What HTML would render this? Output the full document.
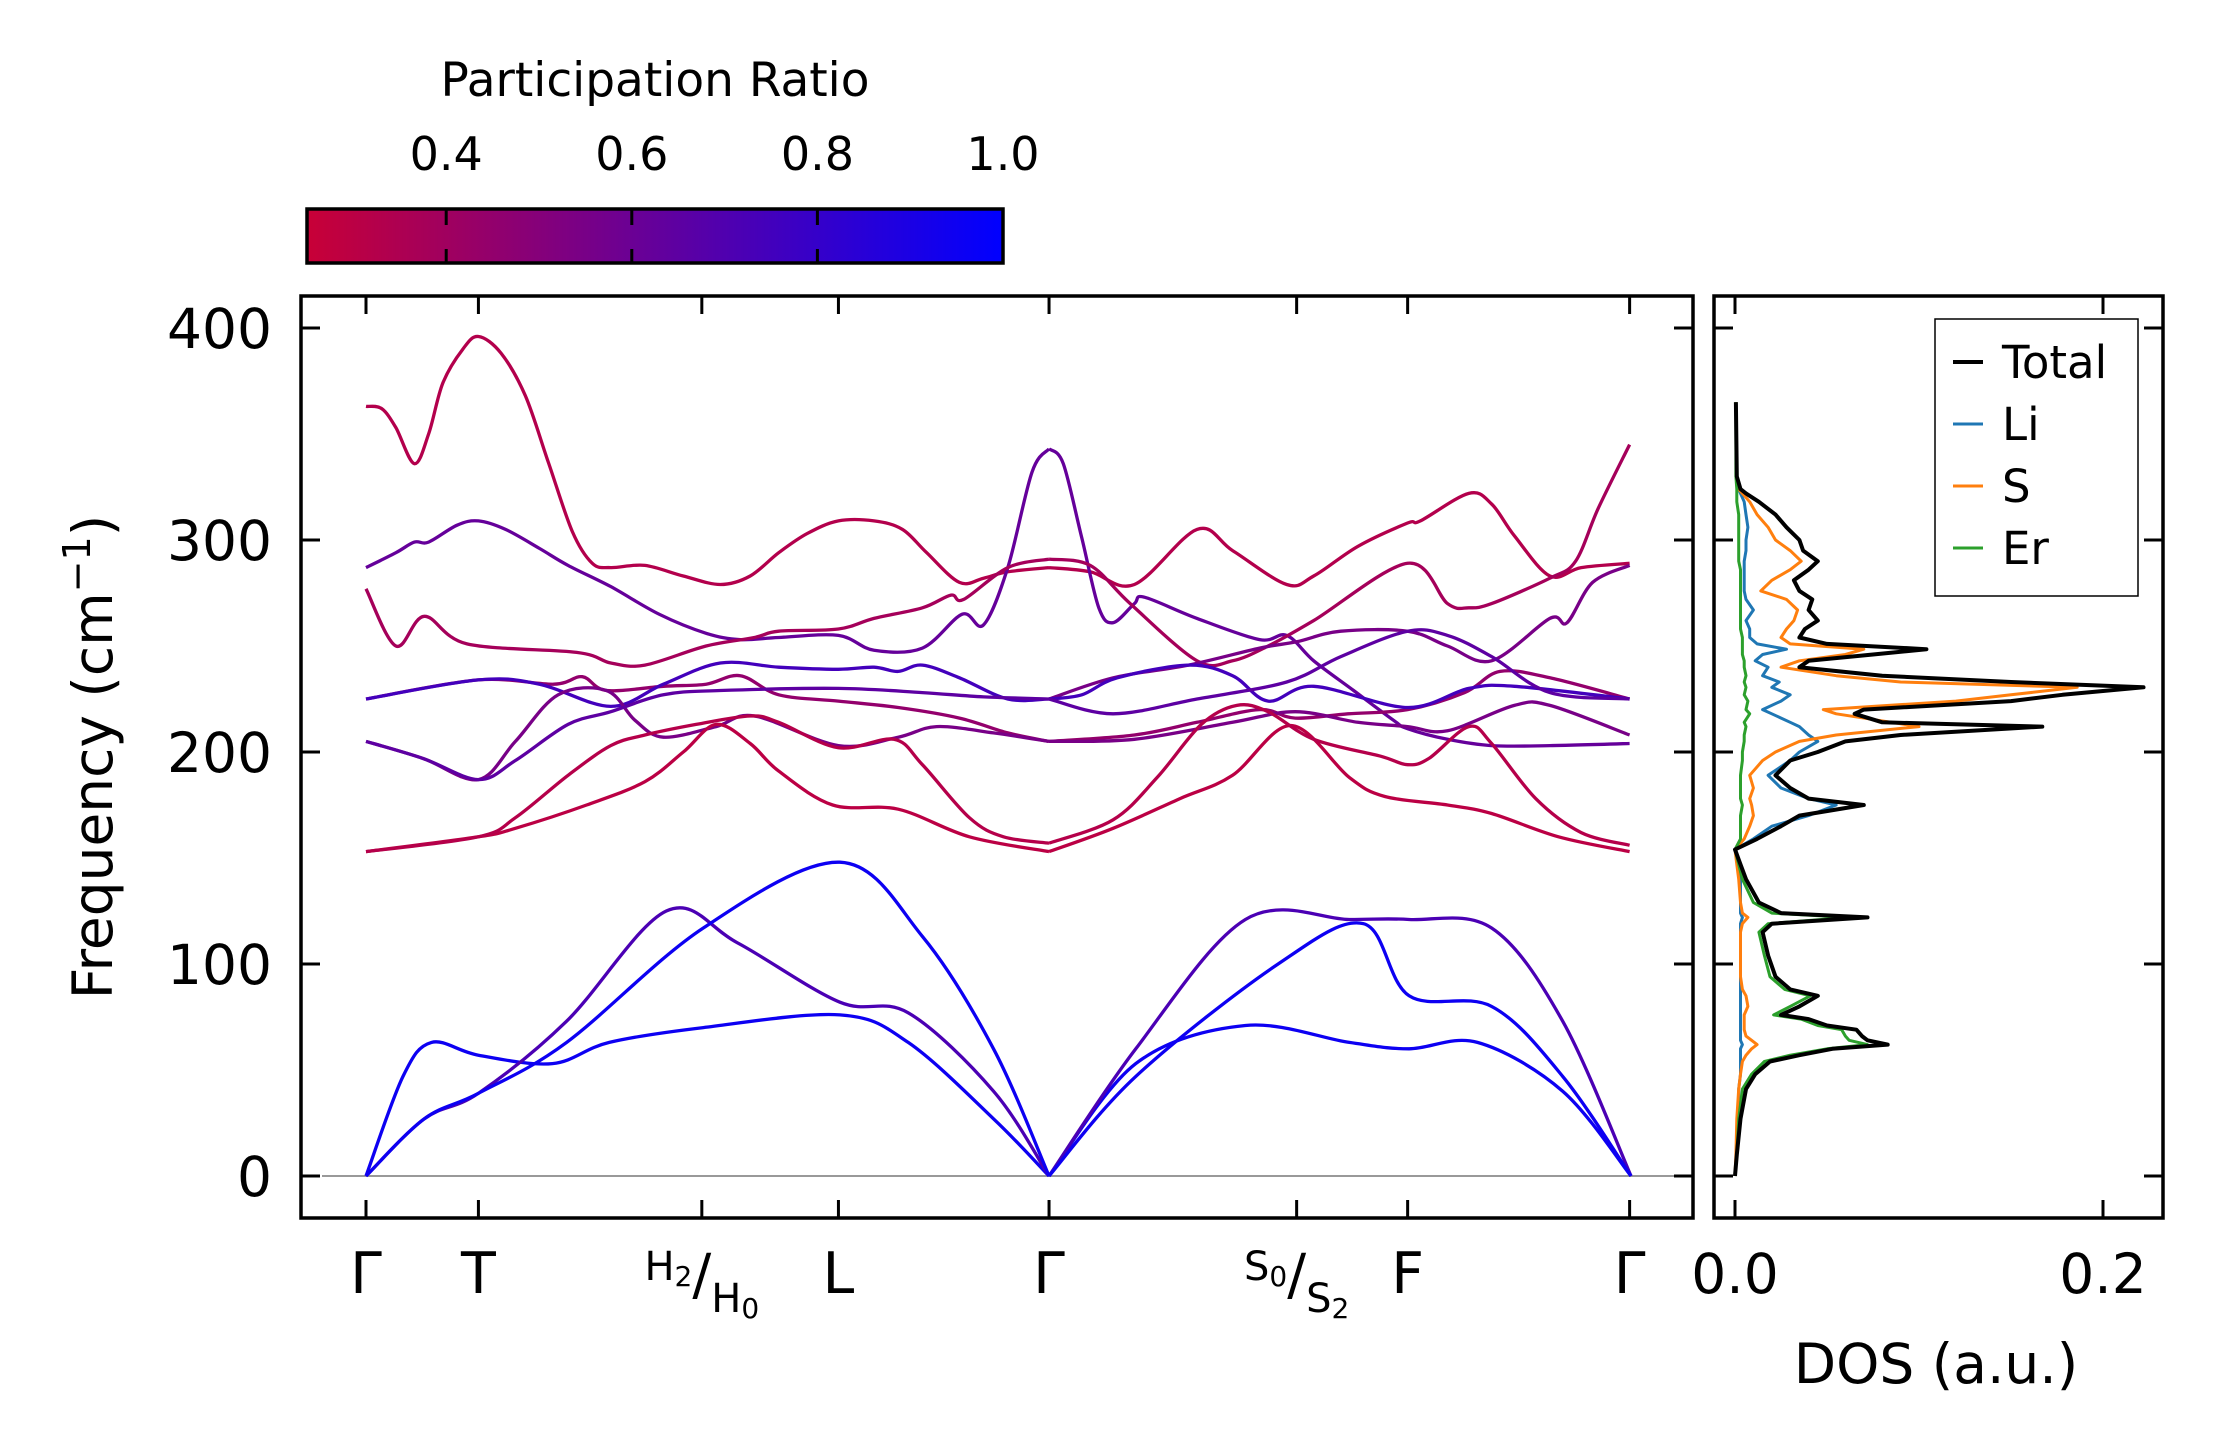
<!DOCTYPE html>
<html><head><meta charset="utf-8">
<style>
html,body{margin:0;padding:0;background:#fff;}
svg{display:block;font-family:"DejaVu Sans","Liberation Sans",sans-serif;}
</style></head>
<body>
<svg id="chart" width="2222" height="1455" viewBox="0 0 2222 1455" xmlns="http://www.w3.org/2000/svg">
<defs>
<linearGradient id="cmap" x1="0" x2="1" y1="0" y2="0">
<stop offset="0" stop-color="rgb(200,0,55)"/>
<stop offset="1" stop-color="rgb(0,0,255)"/>
</linearGradient>
<clipPath id="mainclip"><rect x="301" y="296" width="1392" height="922"/></clipPath>
<clipPath id="dosclip"><rect x="1714" y="296" width="449" height="922"/></clipPath>
</defs>
<rect x="0" y="0" width="2222" height="1455" fill="#fff"/>

<g id="colorbar">
<text x="655" y="96" font-size="47" text-anchor="middle">Participation Ratio</text>
<rect x="307" y="209" width="696" height="54" fill="url(#cmap)" stroke="#000" stroke-width="3.5"/>
<g id="cbticks"></g>
</g>

<g id="main-plot">
<line x1="322" y1="1176" x2="1693" y2="1176" stroke="#999" stroke-width="2"/>
<g id="bands" clip-path="url(#mainclip)"></g>
<rect x="301" y="296" width="1392" height="922" fill="none" stroke="#000" stroke-width="3.5"/>
<g id="mainticks"></g>
<text transform="translate(112,757) rotate(-90)" font-size="55" text-anchor="middle">Frequency (cm<tspan font-size="38" dy="-22">−1</tspan><tspan dy="22">)</tspan></text>
</g>

<g id="dos-plot">
<g id="dos" clip-path="url(#dosclip)"></g>
<rect x="1714" y="296" width="449" height="922" fill="none" stroke="#000" stroke-width="3.5"/>
<g id="dosticks"></g>
<text x="1936" y="1383" font-size="55" text-anchor="middle">DOS (a.u.)</text>
<g id="legend">
<rect x="1935" y="319" width="203" height="277" fill="#fff" stroke="#000" stroke-width="1.5"/>
</g>
</g>
</svg>
<script>
// ---- band structure data ----
const symLabels = ["Γ","T","H","L","Γ","S","F","Γ"];
const symK = [0, 0.79, 2.36, 3.32, 4.80, 6.54, 7.32, 8.88];
const bandK = [
 [0,.11,.21,.34,.44,.54,.68,.79,.95,1.12,1.28,1.45,1.59,1.72,1.96,2.23,2.49,2.70,2.90,3.10,3.32,3.57,3.77,3.94,4.17,4.34,4.51,4.80,5.09,5.40,5.84,6.09,6.47,6.66,6.97,7.32,7.41,7.75,7.91,8.07,8.32,8.54,8.88],
 [0,.21,.34,.44,.64,.79,.98,1.22,1.42,1.72,2.06,2.39,2.63,2.90,3.32,3.57,3.91,4.19,4.34,4.51,4.68,4.80,4.90,5.03,5.15,5.25,5.40,5.47,5.84,6.28,6.47,6.66,6.94,7.22,7.32,7.60,7.91,8.32,8.88],
 [0,.21,.41,.71,1.48,1.72,1.96,2.39,2.73,2.90,3.32,3.57,3.91,4.11,4.20,4.51,4.80,5.09,5.37,5.84,6.09,6.34,6.66,7.32,7.60,7.75,7.91,8.32,8.50,8.66,8.88],
 [4.80,5.25,5.78,6.28,6.54,6.85,7.32,7.60,7.91,8.32,8.44,8.62,8.88],
 [0,.79,1.32,1.52,1.69,2.09,2.39,2.63,2.90,3.32,3.74,4.17,4.51,4.80,5.40,5.84,6.28,6.53,6.90,7.32,7.72,7.97,8.32,8.88],
 [0,.79,1.22,1.72,2.09,2.49,2.90,3.32,3.57,3.74,3.91,4.17,4.51,4.80,5.03,5.28,5.78,6.09,6.34,6.66,7.32,7.75,8.07,8.88],
 [0,.4,.79,1.05,1.35,1.69,1.89,2.09,2.46,2.73,3.32,3.74,4.01,4.41,4.80,5.40,6.09,6.53,6.97,7.32,7.60,8.07,8.32,8.88],
 [0,.79,1.05,1.55,1.96,2.23,2.46,2.70,2.90,3.28,3.74,4.24,4.80,5.25,5.72,6.09,6.50,6.91,7.16,7.60,7.91,8.38,8.88],
 [0,.79,1.05,1.42,1.72,1.96,2.32,2.70,2.90,3.32,3.71,3.91,4.24,4.48,4.80,5.25,5.56,5.87,6.12,6.34,6.66,7.13,7.32,7.47,7.75,7.91,8.22,8.54,8.88],
 [0,.4,.79,1.05,1.42,1.72,2.09,2.49,3.32,3.91,4.34,4.80,5.25,5.84,6.47,6.85,7.32,7.60,7.91,8.32,8.88],
 [0,.26,.46,.79,1.31,1.71,2.37,3.33,3.81,4.41,4.80,5.41,6.18,6.91,7.33,7.81,8.41,8.89],
 [0,.41,.79,1.41,2.11,2.61,3.33,3.81,4.41,4.80,5.41,6.18,6.91,7.33,7.91,8.41,8.89],
 [0,.41,.79,1.41,2.37,3.33,3.91,4.41,4.80,5.41,6.41,7.01,7.33,7.91,8.41,8.89]
];
const bandF = [
 [363,362,353,336,350,374,390,396,388,368,337,304,289,287,288,283,279,283,294,303,309,309,305,294,280,282,285,287,285,279,305,295,279,283,297,308,309,322,317,302,283,287,289],
 [287,294,299,299,307,309,305,296,288,278,265,256,253,254,255,248,249,265,260,287,332,343,336,301,268,261,270,273,263,253,255,243,229,215,211,206,203,203,204],
 [277,250,264,251,247,242,241,250,254,257,258,263,268,274,272,287,291,288,270,243,243,250,262,289,270,268,270,282,290,315,345],
 [225,235,241,249,252,257,257,250,243,263,261,280,288],
 [225,234,232,235.5,229,231,232,236,227,224,221,216,209,205,208,214,220,216,218,220,228,238,235,225],
 [225,234,232,221.5,232,242,240,239,240,238,241,235,225,225,227,235,241,236,224,231,221,230,231,225],
 [205,197,187,205,227,229,215,207,212,217,203,207,212,209,205,206,214,219,214,212,210,222,222,208],
 [153,160,164,175,186,200,213,204,191,175,173,160,153,164,178,189,212.5,188,179,175,171,160,153],
 [153,160,169,189,203,208,213,217,214,202,206,194,169,160,157,168,188,213,222,219,206,198,194,197,212,204,178,162,156],
 [205,197,187,196,213,219,227,229,230,228,226,225,218,225,233,245,257,255,245,228,225],
 [0,47,63,57,53,63,70,76,63,27,0,53,71,63,60,63,40,0],
 [0,27,39,73,125,110,82,77,40,0,60,121,121,121,117,73,0],
 [0,27,39,63,117,148,113,60,0,47,100,119,85,80,47,0]
];
const bandPR = [0.33,0.62,0.38,0.55,0.45,0.75,0.55,0.30,0.32,0.65,0.95,0.72,0.95];
const freqTicks = [0,100,200,300,400];
const cbTicks = [0.4,0.6,0.8,1.0];

// ---- DOS data ----
const dosF = [0,10,27,41,48,54,57,60,62,64,66,69,71,74,76,80,85,88,94,104,115,119,122,124,129,140,147,154,159,165,170,175,178,183,189,196,200,205,208,212,214,218,220,224,227,230.5,233,236,240,243,246,248.5,251,254,258,262,267,272,276,281,286,290,295,300,306,312,318,322,324,330,365];
const dosTotal = [0,.001,.003,.006,.011,.019,.035,.053,.083,.072,.069,.066,.05,.04,.025,.035,.045,.03,.022,.018,.015,.02,.072,.025,.013,.006,.003,0,.012,.025,.035,.07,.04,.03,.022,.03,.045,.06,.09,.167,.08,.065,.07,.15,.178,.222,.15,.08,.035,.04,.075,.104,.05,.035,.038,.045,.04,.042,.035,.032,.04,.045,.037,.035,.028,.022,.013,.006,.003,.001,.0005];
const dosLi = [0,.001,.002,.002,.003,.003,.003,.003,.004,.003,.003,.003,.003,.003,.003,.003,.003,.003,.003,.003,.003,.003,.004,.003,.003,.003,.002,0,.01,.02,.04,.055,.04,.025,.018,.03,.035,.045,.04,.035,.03,.02,.015,.025,.03,.02,.024,.015,.018,.011,.015,.028,.012,.008,.008,.006,.01,.006,.005,.005,.005,.005,.006,.006,.007,.006,.005,.003,.002,.001,.0005];
const dosS = [0,.0005,.001,.002,.003,.004,.006,.009,.012,.009,.006,.005,.005,.005,.005,.007,.006,.004,.003,.003,.003,.004,.007,.004,.003,.002,.001,0,.005,.008,.01,.009,.008,.01,.008,.015,.022,.035,.055,.1,.085,.055,.048,.12,.15,.186,.09,.055,.025,.035,.06,.07,.03,.025,.028,.032,.034,.028,.014,.02,.03,.036,.03,.022,.018,.012,.008,.004,.002,.001,.0005];
const dosEr = [0,.001,.002,.004,.009,.016,.03,.05,.072,.062,.06,.058,.045,.036,.021,.03,.041,.027,.019,.016,.013,.018,.062,.02,.01,.004,.002,0,.003,.003,.003,.004,.003,.003,.003,.004,.004,.005,.005,.006,.005,.008,.006,.007,.005,.006,.005,.006,.005,.005,.004,.004,.004,.004,.003,.003,.003,.003,.003,.003,.003,.002,.002,.002,.002,.002,.001,.001,.001,.0005,.0005];
const dosTicks = [0.0,0.2];
const legendNames = ["Total","Li","S","Er"];
const legendColors = ["#000000","#1f77b4","#ff7f0e","#2ca02c"];

// ---- scales ----
const NS = "http://www.w3.org/2000/svg";
function xK(k){ return 366 + k*142.3; }
function yF(f){ return 1176 - f*2.12; }
function xD(v){ return 1735 + v*1840; }
function xCB(p){ return 307 + (p-0.25)/0.75*696; }
function prColor(p){
  const t = Math.max(0,Math.min(1,(p-0.25)/0.75));
  return "rgb("+Math.round(200*(1-t))+",0,"+Math.round(55+200*t)+")";
}
function mk(tag, attrs, parent){
  const el = document.createElementNS(NS, tag);
  for (const a in attrs) el.setAttribute(a, attrs[a]);
  parent.appendChild(el);
  return el;
}
function smoothPath(pts){
  let d = "M"+pts[0][0].toFixed(1)+","+pts[0][1].toFixed(1);
  for (let i=0;i<pts.length-1;i++){
    const p0 = pts[i-1]||pts[i], p1 = pts[i], p2 = pts[i+1], p3 = pts[i+2]||pts[i+1];
    const c1x = p1[0]+(p2[0]-p0[0])/6, c1y = p1[1]+(p2[1]-p0[1])/6;
    const c2x = p2[0]-(p3[0]-p1[0])/6, c2y = p2[1]-(p3[1]-p1[1])/6;
    d += " C"+c1x.toFixed(1)+","+c1y.toFixed(1)+" "+c2x.toFixed(1)+","+c2y.toFixed(1)+" "+p2[0].toFixed(1)+","+p2[1].toFixed(1);
  }
  return d;
}

// ---- colorbar ticks ----
const cbg = document.getElementById("cbticks");
cbTicks.forEach(function(t){
  const x = xCB(t);
  if (t < 1.0) {
    const l1 = mk("line",{x1:x,y1:209,x2:x,y2:225,stroke:"#000","stroke-width":3},cbg);
    
    
    const l2 = mk("line",{x1:x,y1:249,x2:x,y2:263,stroke:"#000","stroke-width":3},cbg);
    
    
  }
  const tx = mk("text",{x:x,y:170,"font-size":46,"text-anchor":"middle"},cbg);
  tx.textContent = t.toFixed(1);
  
  
});

// ---- bands (split at interior Γ so cusps stay sharp) ----
const bg = document.getElementById("bands");
bandK.forEach(function(ks, i){
  const pts = ks.map(function(k,j){ return [xK(k), yF(bandF[i][j])]; });
  const segs = [];
  let cur = [];
  ks.forEach(function(k,j){
    cur.push(pts[j]);
    if (Math.abs(k-4.80) < 0.005 && j>0 && j<ks.length-1) { segs.push(cur); cur = [pts[j]]; }
  });
  if (cur.length>1) segs.push(cur);
  const d = segs.map(smoothPath).join(" ");
  const p = mk("path",{d:d,fill:"none",stroke:prColor(bandPR[i]),"stroke-width":3.3,"stroke-linejoin":"round"},bg);
  
  
});

// ---- main ticks ----
const mt = document.getElementById("mainticks");
freqTicks.forEach(function(f){
  const y = yF(f);
  const a = mk("line",{x1:301,y1:y,x2:320,y2:y,stroke:"#000","stroke-width":3},mt);
  
  
  const b = mk("line",{x1:1674,y1:y,x2:1693,y2:y,stroke:"#000","stroke-width":3},mt);
  
  
  const t = mk("text",{x:272,y:y+20,"font-size":55,"text-anchor":"end"},mt);
  t.textContent = String(f);
  
  
});
symK.forEach(function(k,i){
  const x = xK(k);
  const a = mk("line",{x1:x,y1:1218,x2:x,y2:1200,stroke:"#000","stroke-width":3},mt);
  
  
  const b = mk("line",{x1:x,y1:296,x2:x,y2:314,stroke:"#000","stroke-width":3},mt);
  
  
  let t;
  if (symLabels[i]==="H" || symLabels[i]==="S") {
    const s = symLabels[i];
    const sa = s==="H" ? ["2","0"] : ["0","2"];
    t = mk("text",{x:x+8,y:1294,"font-size":40,"text-anchor":"middle"},mt);
    const t1 = mk("tspan",{dx:-8,dy:-14},t); t1.textContent = s;
    const t2 = mk("tspan",{"font-size":28,dy:6},t); t2.textContent = sa[0];
    const t3 = mk("tspan",{"font-size":56,dy:8},t); t3.textContent = "/";
    const t4 = mk("tspan",{"font-size":40,dy:18},t); t4.textContent = s;
    const t5 = mk("tspan",{"font-size":28,dy:6},t); t5.textContent = sa[1];
  } else {
    t = mk("text",{x:x,y:1293,"font-size":57,"text-anchor":"middle"},mt);
    t.textContent = symLabels[i];
  }
  
  
});

// ---- DOS ----
const dg = document.getElementById("dos");
const dosSeries = [dosTotal, dosLi, dosS, dosEr];
[1,2,3,0].forEach(function(si){
  const vals = dosSeries[si];
  const pts = dosF.map(function(f,j){ return xD(vals[j]).toFixed(1)+","+yF(f).toFixed(1); }).join(" ");
  const pl = mk("polyline",{points:pts,fill:"none",stroke:legendColors[si],"stroke-width":si===0?4:3,"stroke-linejoin":"round"},dg);
  
  
});
const dt = document.getElementById("dosticks");
freqTicks.forEach(function(f){
  const y = yF(f);
  const a = mk("line",{x1:1714,y1:y,x2:1733,y2:y,stroke:"#000","stroke-width":3},dt);
  
  
  const b = mk("line",{x1:2144,y1:y,x2:2163,y2:y,stroke:"#000","stroke-width":3},dt);
  
  
});
dosTicks.forEach(function(v){
  const x = xD(v);
  const a = mk("line",{x1:x,y1:1218,x2:x,y2:1200,stroke:"#000","stroke-width":3},dt);
  
  
  const b = mk("line",{x1:x,y1:296,x2:x,y2:314,stroke:"#000","stroke-width":3},dt);
  
  
  const t = mk("text",{x:x,y:1293,"font-size":55,"text-anchor":"middle"},dt);
  t.textContent = v.toFixed(1);
  
  
});

// ---- legend ----
const lg = document.getElementById("legend");
legendNames.forEach(function(n,i){
  const y = 362 + i*62;
  const g = mk("g",{},lg);
  
  
  mk("line",{x1:1953,y1:y,x2:1983,y2:y,stroke:legendColors[i],"stroke-width":i===0?4:3},g);
  const t = mk("text",{x:2002,y:y+16,"font-size":45},g);
  t.textContent = n;
});
</script>
</body></html>
